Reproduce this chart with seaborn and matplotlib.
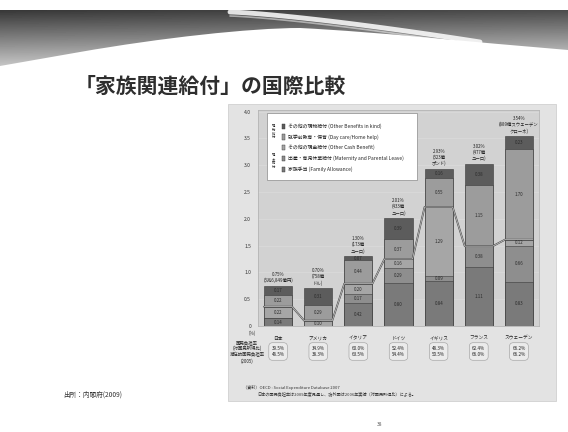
import numpy as np
import pandas as pd
import matplotlib
matplotlib.use("Agg")
import matplotlib.pyplot as plt
import matplotlib.transforms as mtransforms
from matplotlib.path import Path
from matplotlib.patches import PathPatch, Rectangle
import seaborn as sns

sns.set_theme(style="white")
plt.rcParams["font.family"] = ["Noto Sans CJK JP", "DejaVu Sans"]

# ---- data: family-related social expenditure, % of GDP ----
countries = ["日本", "アメリカ", "イタリア", "ドイツ", "イギリス", "フランス", "スウェーデン"]
family_allowance = [0.14, 0.00, 0.42, 0.80, 0.84, 1.11, 0.83]
maternity_leave = [0.00, 0.00, 0.17, 0.29, 0.09, 0.38, 0.66]
other_cash = [0.22, 0.10, 0.20, 0.16, 1.29, 0.00, 0.12]
day_care = [0.22, 0.29, 0.44, 0.37, 0.55, 1.15, 1.70]
other_in_kind = [0.17, 0.31, 0.07, 0.39, 0.16, 0.38, 0.23]
totals = ["0.75%", "0.70%", "1.30%", "2.01%", "2.93%", "3.02%", "3.54%"]
amounts = ["(3兆6,849億円)", "(758億\nドル)", "(173億\nユーロ)", "(433億\nユーロ)",
           "(323億\nポンド)", "(477億\nユーロ)", "(889億スウェーデン\nクローネ)"]
burden = ["39.5%", "34.9%", "60.0%", "52.4%", "48.3%", "62.4%", "66.2%"]
potential_burden = ["46.5%", "38.3%", "63.5%", "54.4%", "50.5%", "66.0%", "66.2%"]

series_names = ["家族手当 (Family Allowance)",
                "出産・育児休業給付 (Maternity and Parental Leave)",
                "その他の現金給付 (Other Cash Benefit)",
                "就学前教育・保育 (Day care/Home help)",
                "その他の現物給付 (Other Benefits in kind)"]
series_values = [family_allowance, maternity_leave, other_cash, day_care, other_in_kind]
series_colors = ["#7a7a7a", "#8e8e8e", "#a6a6a6", "#9c9c9c", "#5c5c5c"]

rows = []
for name, vals in zip(series_names, series_values):
    for c, v in zip(countries, vals):
        rows.append({"country": c, "series": name, "value": v})
df = pd.DataFrame(rows)
wide = df.pivot(index="country", columns="series", values="value").loc[countries, series_names]
cum = wide.cumsum(axis=1)
cash_top = cum[series_names[2]].values

W, H = 568, 432
fig = plt.figure(figsize=(W / 100, H / 100), dpi=100)
fig.patch.set_facecolor("white")

# ---- slide background layer in pixel coordinates ----
bg = fig.add_axes([0, 0, 1, 1])
bg.set_xlim(0, W)
bg.set_ylim(H, 0)
bg.axis("off")

# header swoosh band
band = Path([(0, 10), (568, 10), (568, 50), (470, 42), (380, 32), (300, 28),
             (250, 28), (160, 38), (80, 52), (0, 66), (0, 10)],
            [Path.MOVETO, Path.LINETO, Path.LINETO, Path.CURVE4, Path.CURVE4, Path.CURVE4,
             Path.CURVE4, Path.CURVE4, Path.CURVE4, Path.LINETO, Path.CLOSEPOLY])
yy, xx = np.mgrid[0:60, 0:568]
grad = 0.22 + 0.6 * (yy / 60.0) + 0.08 * (xx / 568.0)
im = bg.imshow(grad, cmap="gray", vmin=0, vmax=1, extent=(0, 568, 70, 10),
               aspect="auto", zorder=1)
patch = PathPatch(band, facecolor="none", edgecolor="none")
bg.add_patch(patch)
im.set_clip_path(patch)
sx = np.linspace(230, 480, 60)
sy = 12 + 30 * ((sx - 230) / 250) ** 1.3
bg.plot(sx, sy, color="white", lw=3.5, alpha=0.85, zorder=2, solid_capstyle="round")
bg.plot(sx, sy + 4, color="white", lw=1.2, alpha=0.5, zorder=2)

bg.text(75, 86, "「家族関連給付」の国際比較", fontsize=15, color="#2e2e2e",
        va="center", ha="left", fontweight="bold")
bg.text(63, 395, "出所：内閣府(2009)", fontsize=4.8, color="#333333", va="center")
bg.text(380, 424, "38", fontsize=3.5, color="#555555", va="center", ha="center")

# chart panel
bg.add_patch(Rectangle((228, 104), 328, 297, facecolor="#e3e3e3", edgecolor="#d0d0d0",
                       lw=0.6, zorder=1))

# ---- chart axes ----
ax = fig.add_axes([258 / W, 1 - 326 / H, 281 / W, (326 - 110) / H])
ax.set_facecolor("#d2d2d2")

for i in range(len(series_names) - 1, -1, -1):
    sub = pd.DataFrame({"country": countries, "value": cum[series_names[i]].values})
    sns.barplot(data=sub, x="country", y="value", color=series_colors[i], width=0.7,
                edgecolor="#3a3a3a", linewidth=0.4, saturation=1, ax=ax, zorder=3)

ax.set_xlim(-0.5, len(countries) - 0.5)
ax.set_ylim(0, 4.03)
ax.set_yticks(np.arange(0, 4.01, 0.5))
ax.set_yticklabels(["0"] + [f"{v:.1f}" for v in np.arange(0.5, 4.01, 0.5)],
                   fontsize=3.6, color="#333333")
ax.tick_params(axis="y", length=0, pad=5)
ax.set_xticks([])
ax.set_xlabel("")
ax.set_ylabel("")
for s in ax.spines.values():
    s.set_color("#b5b5b5")
    s.set_linewidth(0.6)
for y in np.arange(0.5, 4.01, 0.5):
    ax.axhline(y, color="#dcdcdc", lw=0.5, zorder=1)

# segment value labels
for i in range(len(countries)):
    base = 0.0
    for name in series_names:
        v = wide.loc[countries[i], name]
        if v >= 0.06:
            ax.text(i, base + v / 2, f"{v:.2f}", ha="center", va="center",
                    fontsize=3.2, color="#2a2a2a", zorder=6)
        base += v
    top = cum.loc[countries[i], series_names[-1]]
    ax.text(i, top + 0.05, f"{totals[i]}\n{amounts[i]}", ha="center", va="bottom",
            fontsize=3.2, color="#222222", linespacing=1.2, zorder=6)

# cash / in-kind boundary line
lx, ly = [], []
for i, c in enumerate(cash_top):
    lx += [i - 0.35, i + 0.35]
    ly += [c, c]
ax.plot(lx, ly, color="#4a4a4a", lw=1.3, zorder=5)
ax.plot(lx, ly, color="#e8e8e8", lw=0.4, zorder=5)

# legend box
leg_box = Rectangle((0.032, 0.678), 0.534, 0.308, transform=ax.transAxes,
                    facecolor="white", edgecolor="#8a8a8a", lw=0.5, zorder=7)
ax.add_patch(leg_box)
leg_y = [0.925, 0.875, 0.827, 0.777, 0.726]
for k, name in enumerate(reversed(series_names)):
    col = series_colors[len(series_names) - 1 - k]
    ax.add_patch(Rectangle((0.085, leg_y[k] - 0.012), 0.012, 0.024, transform=ax.transAxes,
                           facecolor=col, edgecolor="#333333", lw=0.3, zorder=8))
    ax.text(0.105, leg_y[k], name, transform=ax.transAxes, fontsize=3.5, va="center",
            color="#222222", zorder=8)
ax.text(0.055, 0.90, "\n".join("現物給付"), transform=ax.transAxes, fontsize=2.4,
        va="center", ha="center", linespacing=0.95, zorder=8, color="#222222")
ax.text(0.055, 0.765, "\n".join("現金給付"), transform=ax.transAxes, fontsize=2.4,
        va="center", ha="center", linespacing=0.95, zorder=8, color="#222222")

# ---- table beneath the bars ----
tr = mtransforms.blended_transform_factory(ax.transData, bg.transData)
bg.text(252, 333, "(%)", fontsize=3.4, ha="center", va="center", color="#333333")
bg.text(247, 352, "国民負担率\n(対国民所得比)\n潜在的国民負担率\n(2005)", fontsize=3.2,
        ha="center", va="center", color="#222222", linespacing=1.25)
for i, c in enumerate(countries):
    bg.text(i, 338, c, transform=tr, fontsize=3.4, ha="center", va="center", color="#222222")
    bg.text(i, 351.5, f"{burden[i]}\n{potential_burden[i]}", transform=tr, fontsize=3.3,
            ha="center", va="center", color="#222222", linespacing=1.5,
            bbox=dict(boxstyle="round,pad=0.6,rounding_size=0.8", facecolor="#ebebeb",
                      edgecolor="#9a9a9a", lw=0.4))

bg.text(243, 387, "（資料）OECD : Social Expenditure Database 2007", fontsize=3.0,
        color="#333333", va="center")
bg.text(257, 394, "日本の国民負担率は2009年度見通し、諸外国は2006年実績（対国民所得比）による。",
        fontsize=3.0, color="#333333", va="center")

fig.savefig("out.png", dpi=100, facecolor="white")
